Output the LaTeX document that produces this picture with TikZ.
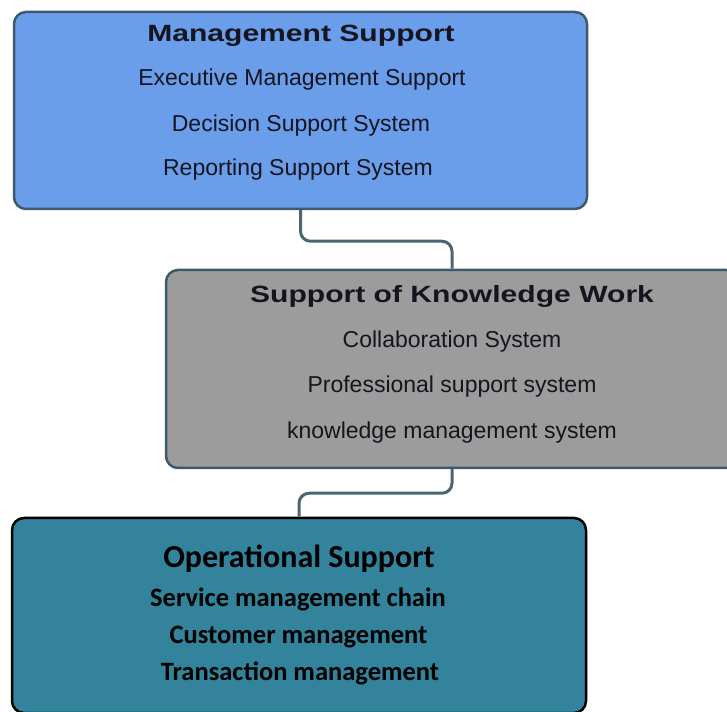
\documentclass[tikz,border=0pt]{standalone}
\usepackage{fontspec}
\setmainfont{Liberation Sans}
\newfontfamily\headfont[FakeStretch=1.28]{Liberation Sans}
\newfontfamily\calfont{Carlito}
\usepackage{tikz}
\usetikzlibrary{positioning}

\definecolor{mgmtblue}{HTML}{6A9EEA}
\definecolor{knowgray}{HTML}{9C9C9C}
\definecolor{operteal}{HTML}{32839B}
\definecolor{boxline}{HTML}{3E5B6B}
\definecolor{linkline}{HTML}{4A6575}
\definecolor{textdark}{HTML}{15151F}

\begin{document}
\begin{tikzpicture}[x=1pt,y=1pt,
	box/.style={draw=boxline, line width=2.5pt, rounded corners=12pt, inner sep=0pt,
		minimum width=573pt, minimum height=197pt},
	link/.style={draw=linkline, line width=3pt, rounded corners=10pt},
	head/.style={anchor=base, text=textdark, font=\headfont\bfseries\fontsize{23.5}{28}\selectfont},
	item/.style={anchor=base, text=textdark, font=\fontsize{23}{28}\selectfont},
	ophead/.style={anchor=base, font=\calfont\bfseries\fontsize{32}{38}\selectfont},
	opitem/.style={anchor=base, font=\calfont\bfseries\fontsize{26.5}{32}\selectfont}]
	
	\clip (0,0) rectangle (727,711);
	
	% the three levels
	\node[box, fill=mgmtblue] (mgmt) at (300.5,600.5) {};
	\node[box, fill=knowgray, minimum width=572pt, minimum height=198pt] (know) at (452,342) {};
	\node[box, fill=operteal, draw=black, minimum width=574pt, minimum height=195pt] (oper) at (299,95.5) {};
	
	\draw[link] (mgmt.south) -- ++(0,-31) -| (know.north);
	\draw[link] (know.south) -- ++(0,-24) -| (oper.north);
	
	\node[head] (mgmt-t) at (301,669) {Management Support};
	\node[item] (mgmt-1) at (302,625) {Executive Management Support};
	\node[item] (mgmt-2) at (301,579) {Decision Support System};
	\node[item] (mgmt-3) at (298,535) {Reporting Support System};
	
	\node[head] (know-t) at (452,408) {Support of Knowledge Work};
	\node[item] (know-1) at (452,363) {Collaboration System};
	\node[item] (know-2) at (452,318) {Professional support system};
	\node[item] (know-3) at (452,272) {knowledge management system};
	
	\node[ophead] (oper-t) at (299,143) {Operational Support};
	\node[opitem] (oper-1) at (298,104) {Service management chain};
	\node[opitem] (oper-2) at (298.5,67) {Customer management};
	\node[opitem] (oper-3) at (300,30) {Transaction management};
	
\end{tikzpicture}
\end{document}
